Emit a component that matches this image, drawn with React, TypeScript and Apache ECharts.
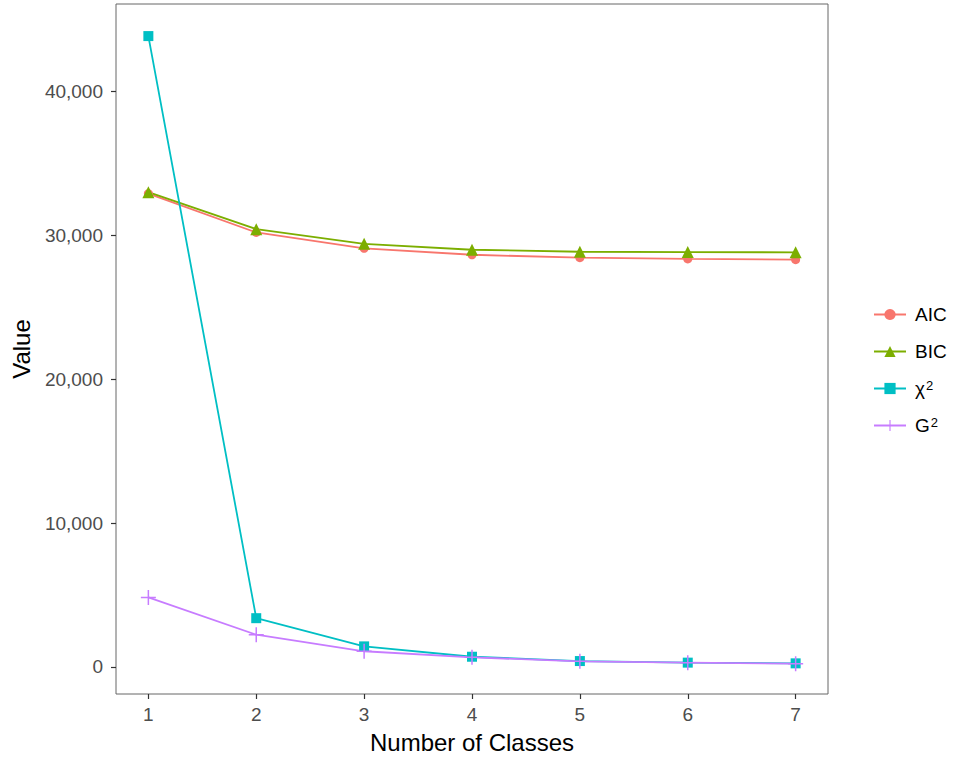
import React, { useEffect, useRef } from "react";
import * as echarts from "echarts";

const classes = [1, 2, 3, 4, 5, 6, 7];
const aicValues = [32900, 30200, 29100, 28650, 28450, 28360, 28310];
const bicValues = [33000, 30430, 29410, 29000, 28860, 28840, 28820];
const chi2Values = [43850, 3390, 1430, 710, 410, 300, 250];
const g2Values = [4830, 2240, 1090, 670, 390, 300, 230];
const xTicks = [1, 2, 3, 4, 5, 6, 7];
const yTicks = [0, 10000, 20000, 30000, 40000];

const seriesNames = ["AIC", "BIC", "chi2", "G2"];
const colors = ["#F8766D", "#7CAE00", "#00BFC4", "#C77CFF"];
const FONT = "Liberation Sans, Arial, Helvetica, sans-serif";
const PLUS = "path://M0,9 L20,9 L20,11 L0,11 Z M9,0 L11,0 L11,20 L9,20 Z";

const pairs = (vals: number[]) => classes.map((c, i) => [c, vals[i]]);

export default function App() {
  const ref = useRef<HTMLDivElement>(null);
  useEffect(() => {
    if (!ref.current) return;
    const chart = echarts.init(ref.current, null, { renderer: "svg" });
    const mk = (name: string, vals: number[], color: string, symbol: string, size: number) => ({
      name,
      type: "line",
      data: pairs(vals),
      symbol,
      symbolSize: size,
      showSymbol: true,
      lineStyle: { color, width: 1.8 },
      itemStyle: { color, borderWidth: 0 },
      emphasis: { disabled: true },
    });
    chart.setOption({
      animation: false,
      textStyle: { fontFamily: FONT },
      grid: {
        left: 116,
        right: 126,
        top: 4,
        bottom: 63,
        show: true,
        borderColor: "#666",
        borderWidth: 1,
        backgroundColor: "#fff",
      },
      legend: {
        orient: "vertical",
        left: 868,
        top: 294,
        itemWidth: 32,
        itemHeight: 14,
        itemGap: 6,
        data: seriesNames,
        formatter: (n: string) => {
          if (n === "chi2") return "{t|χ}{s|2}";
          if (n === "G2") return "{t|G}{s|2}";
          return "{t|" + n + "}{s| }";
        },
        textStyle: {
          fontFamily: FONT,
          fontSize: 19,
          lineHeight: 19,
          color: "#000",
          padding: [0, 0, 0, 4],
          rich: {
            t: { fontFamily: FONT, fontSize: 19, lineHeight: 19, color: "#000", padding: [6, 0, 6, 0] },
            s: {
              fontFamily: FONT,
              fontSize: 13,
              lineHeight: 13,
              color: "#000",
              verticalAlign: "top",
              padding: [0, 0, 0, 1],
            },
          },
        },
      },
      xAxis: {
        type: "value",
        min: 0.7,
        max: 7.3,
        name: "Number of Classes",
        nameLocation: "middle",
        nameGap: 36,
        nameTextStyle: { fontFamily: FONT, fontSize: 24, color: "#000" },
        axisLine: { show: false, onZero: false },
        axisTick: { show: true, length: 5, lineStyle: { color: "#333", width: 1.2 }, customValues: xTicks },
        axisLabel: { fontFamily: FONT, fontSize: 19, color: "#4D4D4D", margin: 11, customValues: xTicks },
        splitLine: { show: false },
      },
      yAxis: {
        type: "value",
        min: -1880,
        max: 46080,
        name: "Value",
        nameLocation: "middle",
        nameGap: 82,
        nameTextStyle: { fontFamily: FONT, fontSize: 24, color: "#000" },
        axisLine: { show: false, onZero: false },
        axisTick: { show: true, length: 5, lineStyle: { color: "#333", width: 1.2 }, customValues: yTicks },
        axisLabel: {
          fontFamily: FONT,
          fontSize: 19,
          color: "#4D4D4D",
          margin: 13,
          customValues: yTicks,
          formatter: (v: number) => v.toLocaleString("en-US"),
        },
        splitLine: { show: false },
      },
      series: [
        mk("AIC", aicValues, colors[0], "circle", 9),
        mk("BIC", bicValues, colors[1], "triangle", 12),
        mk("chi2", chi2Values, colors[2], "rect", 10),
        mk("G2", g2Values, colors[3], PLUS, 15),
      ],
    });
    return () => chart.dispose();
  }, []);
  return (
    <div
      ref={ref}
      style={{ position: "absolute", left: 0, top: 0, width: 954, height: 759, background: "#fff" }}
    />
  );
}
